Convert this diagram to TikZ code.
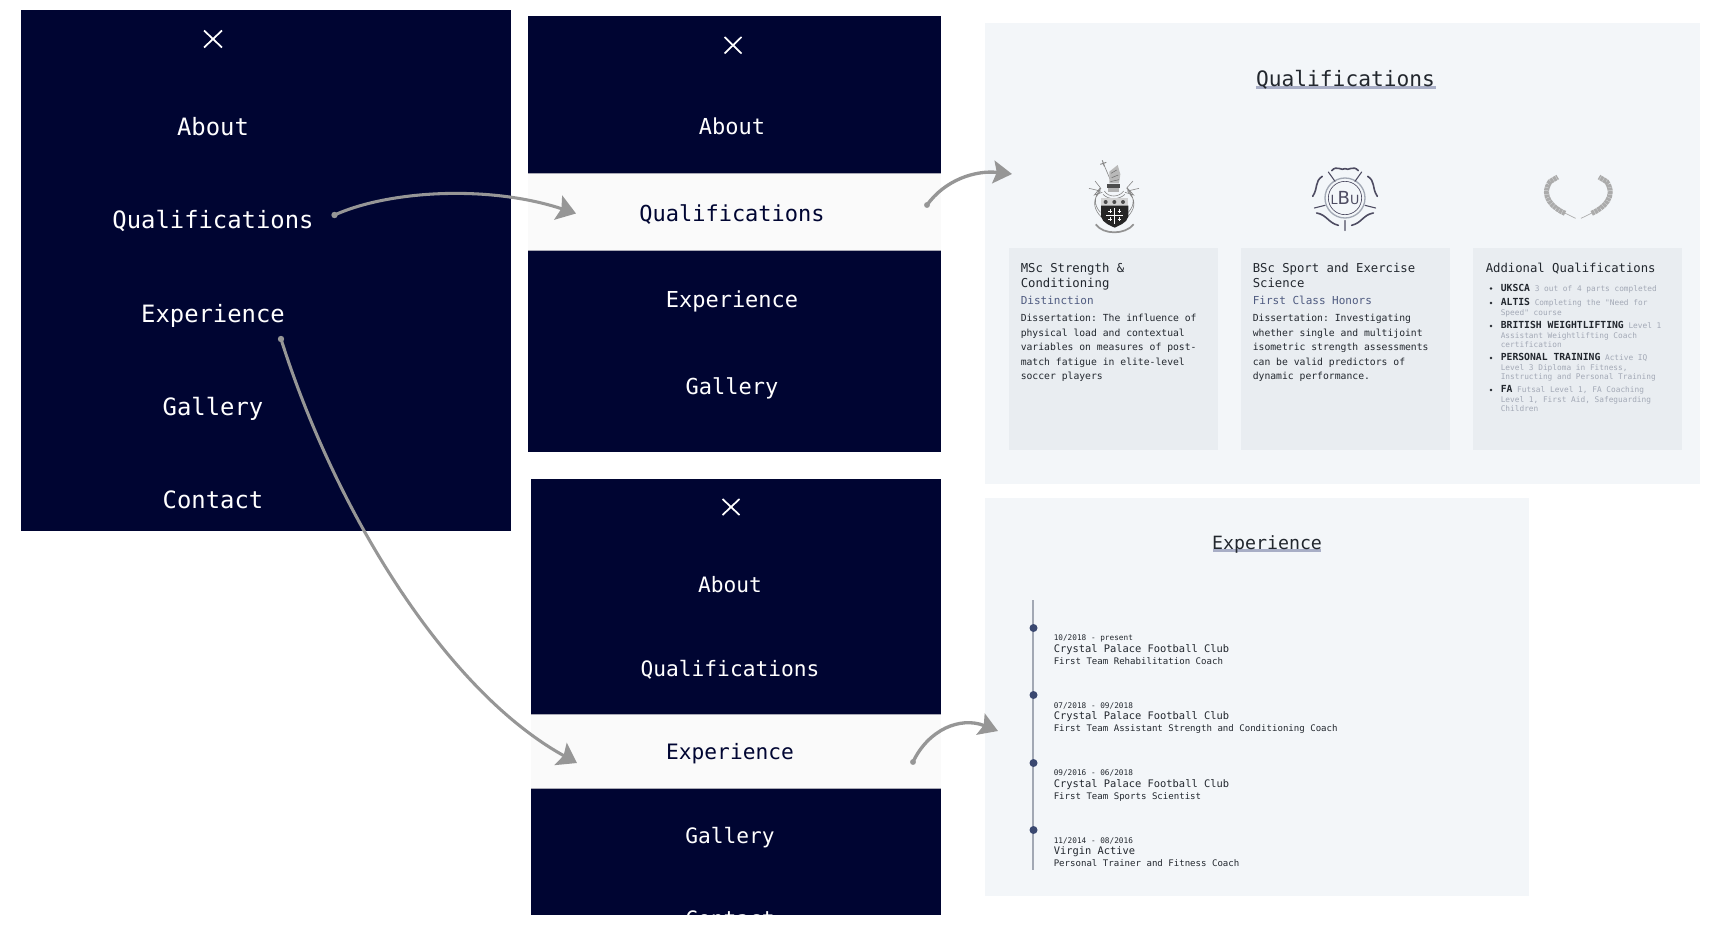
\documentclass[tikz,border=0pt]{standalone}
\usepackage{fontspec}
\setmainfont{DejaVu Sans}
\setmonofont{DejaVu Sans Mono}
\usetikzlibrary{arrows.meta}

\definecolor{navybg}{HTML}{000532}
\definecolor{bandbg}{HTML}{FAFAFA}
\definecolor{bandedge}{HTML}{A8A8B4}
\definecolor{panelbg}{HTML}{F3F6F9}
\definecolor{cardbg}{HTML}{E9EDF1}
\definecolor{inkdark}{HTML}{22272E}
\definecolor{inkblue}{HTML}{4F5B80}
\definecolor{inkgray}{HTML}{A3A9B6}
\definecolor{underbar}{HTML}{A8AEC6}
\definecolor{dotblue}{HTML}{3A4870}
\definecolor{lineblue}{HTML}{A2A8B4}
\definecolor{arrowgray}{HTML}{969696}
\definecolor{lbugray}{HTML}{4E4C62}
\definecolor{laurelgray}{HTML}{ABABAB}

\newcommand{\monosize}[1]{\fontsize{#1}{#1}\selectfont\ttfamily}
\newcommand{\qualbold}[1]{{\fontsize{7.3}{8}\selectfont\bfseries\color{inkdark}#1}}

\tikzset{
  menuleft/.style={text=white,font={\monosize{17.9}},inner sep=0pt,text height=13pt,text depth=0pt},
  menutop/.style={text=white,font={\monosize{16.5}},inner sep=0pt,text height=12pt,text depth=0pt},
  menubot/.style={text=white,font={\monosize{15.9}},inner sep=0pt,text height=11.6pt,text depth=0pt},
  closex/.style={white,line width=1.3pt},
  handarrow/.style={arrowgray,line width=2.3pt,line cap=round,-{Stealth[length=14pt,width=19pt,inset=2.5pt]}},
  handshort/.style={arrowgray,line width=2.5pt,line cap=round,-{Stealth[length=14pt,width=17pt,inset=2.5pt]}},
  handdot/.style={fill=arrowgray},
  cardhead/.style={anchor=west,text=inkdark,font={\monosize{9.2}},inner sep=0pt,text height=6.7pt,text depth=0pt},
  cardsub/.style={anchor=west,text=inkblue,font={\monosize{8.25}},inner sep=0pt,text height=6pt,text depth=0pt},
  cardbody/.style={anchor=west,text=inkdark,font={\monosize{7.3}},inner sep=0pt,text height=5.3pt,text depth=0pt},
  cardsmall/.style={anchor=west,text=inkgray,font={\monosize{5.85}},inner sep=0pt,text height=4pt,text depth=0pt},
  jobdate/.style={anchor=west,text=inkdark,font={\monosize{5.8}},inner sep=0pt,text height=4.2pt,text depth=0pt},
  jobclub/.style={anchor=west,text=inkdark,font={\monosize{7.8}},inner sep=0pt,text height=5.7pt,text depth=0pt},
  jobrole/.style={anchor=west,text=inkdark,font={\monosize{6.8}},inner sep=0pt,text height=5pt,text depth=0pt},
}

\begin{document}
\begin{tikzpicture}[x=0.75pt,y=-0.75pt]
\useasboundingbox (0,0) rectangle (1720,928);

%=== LEFT: full menu ===
\fill[navybg] (21,10) rectangle (511,531);
\draw[closex] (204,30.5) -- (222,47.5) (204,47.5) -- (222,30.5);
\foreach \lbl/\yy/\nm in {About/126.5/leftabout,Qualifications/220.3/leftqual,Experience/313.5/leftexp,Gallery/406.5/leftgal,Contact/499.5/leftcon}
  \node[menuleft] (\nm) at (213,\yy) {\lbl};

%=== MIDDLE TOP: menu with Qualifications picked ===
\fill[navybg] (528,15.5) rectangle (941,452);
\fill[bandbg] (528,173) rectangle (941,250.5);
\draw[bandedge,line width=0.4pt] (528,173) -- (941,173) (528,250.5) -- (941,250.5);
\draw[closex] (724.5,37) -- (741.5,53.5) (724.5,53.5) -- (741.5,37);
\foreach \lbl/\yy/\nm in {About/126.4/topabout,Experience/299.5/topexp,Gallery/386/topgal}
  \node[menutop] (\nm) at (732,\yy) {\lbl};
\node[menutop,text=navybg] (topqual) at (732,213) {Qualifications};

%=== MIDDLE BOTTOM: menu with Experience picked, cut off below ===
\fill[navybg] (531,478.6) rectangle (941,915);
\fill[bandbg] (531,714) rectangle (941,788.5);
\draw[bandedge,line width=0.5pt] (531,714) -- (941,714) (531,788.5) -- (941,788.5);
\draw[closex] (722.5,499) -- (739.5,515) (722.5,515) -- (739.5,499);
\foreach \lbl/\yy/\nm in {About/584.5/botabout,Qualifications/668.3/botqual,Gallery/835.5/botgal}
  \node[menubot] (\nm) at (730,\yy) {\lbl};
\node[menubot,text=navybg] (botexp) at (730,751.6) {Experience};
\begin{scope}
  \clip (531,478.6) rectangle (941,915);
  \node[menubot] (botcon) at (730,918.8) {Contact};
\end{scope}

%=== RIGHT TOP: Qualifications page ===
\fill[panelbg] (985,23) rectangle (1700,484);
\fill[underbar] (1256,85.5) rectangle (1435.5,89);
\node[font={\monosize{15.9}},text=inkdark,inner sep=0pt,text height=11.6pt,text depth=0pt] (qualtitle) at (1345.5,79) {Qualifications};

\fill[cardbg] (1009,248) rectangle (1218,450);
\fill[cardbg] (1241,248) rectangle (1450,450);
\fill[cardbg] (1473,248) rectangle (1682,450);

% Crest
\begin{scope}[shift={(1075,155)},x=0.25pt,y=-0.25pt]
  \draw[gray!90,line width=0.5pt] (85,25) -- (105,72);
  \draw[gray!95,line width=0.7pt] (76,28) -- (94,22) (82,16) -- (88,34);
  % beast on the helm
  \fill[gray!55] (103,50) -- (118,38) -- (128,30) -- (136,58) -- (132,85) -- (103,85) -- cycle;
  \draw[black!60,line width=0.35pt] (108,55) -- (125,45) (110,68) -- (130,60) (106,80) -- (132,74);
  \fill[black!70] (96,88) rectangle (136,98);
  \fill[gray!60] (100,98) rectangle (132,110);
  % mantling
  \draw[gray!95,line width=0.45pt]
    (60,78) -- (76,98) -- (58,120) -- (82,112) (42,100) -- (76,108) -- (62,128)
    (78,100) .. controls (56,125) and (56,150) .. (76,172) (68,118) .. controls (52,140) and (58,165) .. (78,185)
    (174,78) -- (156,98) -- (176,120) -- (150,112) (192,100) -- (158,108) -- (172,128)
    (155,100) .. controls (180,125) and (180,150) .. (160,172) (166,118) .. controls (184,140) and (178,165) .. (158,185)
    (88,108) .. controls (100,128) and (132,128) .. (146,108)
    (84,118) .. controls (100,135) and (132,135) .. (150,118);
  % shield
  \fill[gray!35] (78,130) rectangle (160,152);
  \foreach \xx in {92,118,144} \fill[black!70] (\xx,141) circle (6);
  \fill[black!85] (78,152) -- (160,152) -- (160,185) .. controls (155,205) and (130,212) .. (119,218)
    .. controls (108,212) and (83,205) .. (78,185) -- cycle;
  \draw[white,line width=0.7pt] (119,160) -- (119,206) (94,180) -- (144,180);
  \draw[white,line width=0.45pt] (100,168) -- (110,168) (128,168) -- (138,168) (100,193) -- (110,193) (128,193) -- (138,193)
    (105,162) -- (105,174) (133,162) -- (133,174) (105,187) -- (105,199) (133,187) -- (133,199);
  % motto ribbon
  \draw[gray!85,line width=1.3pt] (62,208) .. controls (85,240) and (150,240) .. (176,208);
\end{scope}

% LBU rose
\begin{scope}[shift={(1345,198)},x=0.25pt,y=-0.25pt]
  \draw[lineblue,line width=1pt] (0,0) circle (60);
  \draw[lbugray,line width=0.5pt] (0,0) circle (50);
  \node[text=lbugray,inner sep=0pt] (lbumark) at (0,1)
    {\fontsize{9.5}{10}\selectfont L\fontsize{13.5}{14}\selectfont B\fontsize{9.5}{10}\selectfont U};
  \draw[lbugray,line width=1.2pt,line cap=round]
    (-40,-82) .. controls (-25,-100) and (-10,-80) .. (0,-88) .. controls (10,-80) and (25,-100) .. (40,-82)
    (-68,-65) .. controls (-92,-50) and (-80,-30) .. (-97,-5)
    (68,-65) .. controls (92,-50) and (80,-30) .. (97,-5)
    (-85,45) .. controls (-55,50) and (-50,75) .. (-20,82)
    (85,45) .. controls (55,50) and (50,75) .. (20,82);
  \draw[lbugray,line width=0.8pt,line cap=round]
    (-50,-78) -- (-30,-50) (50,-78) -- (30,-50) (-92,30) -- (-60,22) (92,30) -- (60,22) (0,67) -- (0,98);
\end{scope}

% Laurel wreath
\begin{scope}[shift={(1535,165)},x=0.25pt,y=-0.25pt]
  \draw[laurelgray,line width=0.5pt] (122,160) -- (85,142);
  \draw[laurelgray,line width=0.5pt] (138,160) -- (175,142);
  \draw[laurelgray,line width=3.8pt,dash pattern=on 2.2pt off 0.4pt]
    (90,145) .. controls (55,130) and (15,95) .. (45,50) -- (68,36);
  \draw[laurelgray,line width=3.8pt,dash pattern=on 2.2pt off 0.4pt]
    (170,145) .. controls (205,130) and (245,95) .. (215,50) -- (192,36);
\end{scope}

% MSc card
\node[cardhead] (mschead) at (1020.5,268) {MSc Strength \&};
\node[cardhead] (mschead2) at (1020.5,283) {Conditioning};
\node[cardsub] (mscsub) at (1020.5,300.5) {Distinction};
\foreach \txt/\yy/\nm in {{Dissertation: The influence of}/318/mscone,{physical load and contextual}/332.5/msctwo,{variables on measures of post-}/347/mscthree,{match fatigue in elite-level}/361.5/mscfour,{soccer players}/376/mscfive}
  \node[cardbody] (\nm) at (1020.5,\yy) {\txt};

% BSc card
\node[cardhead] (bschead) at (1252.5,268) {BSc Sport and Exercise};
\node[cardhead] (bschead2) at (1252.5,283) {Science};
\node[cardsub] (bscsub) at (1252.5,300.5) {First Class Honors};
\foreach \txt/\yy/\nm in {{Dissertation: Investigating}/318/bscone,{whether single and multijoint}/332.5/bsctwo,{isometric strength assessments}/347/bscthree,{can be valid predictors of}/361.5/bscfour,{dynamic performance.}/376/bscfive}
  \node[cardbody] (\nm) at (1252.5,\yy) {\txt};

% Additional card
\node[cardhead] (addhead) at (1485.5,268) {Addional Qualifications};
\foreach \yy in {288.5,303,326,358,390}
  \fill[inkdark] (1491,\yy) circle (1.1pt);
\node[cardsmall] (addone) at (1500.5,289) {\qualbold{UKSCA} 3 out of 4 parts completed};
\node[cardsmall] (addtwo) at (1500.5,303) {\qualbold{ALTIS} Completing the "Need for};
\node[cardsmall] (addtwob) at (1500.5,313) {Speed" course};
\node[cardsmall] (addthree) at (1500.5,326) {\qualbold{BRITISH WEIGHTLIFTING} Level 1};
\node[cardsmall] (addthreeb) at (1500.5,336) {Assistant Weightlifting Coach};
\node[cardsmall] (addthreec) at (1500.5,345) {certification};
\node[cardsmall] (addfour) at (1500.5,358) {\qualbold{PERSONAL TRAINING} Active IQ};
\node[cardsmall] (addfourb) at (1500.5,368) {Level 3 Diploma in Fitness,};
\node[cardsmall] (addfourc) at (1500.5,377) {Instructing and Personal Training};
\node[cardsmall] (addfive) at (1500.5,390) {\qualbold{FA} Futsal Level 1, FA Coaching};
\node[cardsmall] (addfiveb) at (1500.5,400) {Level 1, First Aid, Safeguarding};
\node[cardsmall] (addfivec) at (1500.5,409) {Children};

%=== RIGHT BOTTOM: Experience page ===
\fill[panelbg] (985,498) rectangle (1529,896);
\fill[underbar] (1212.5,548.5) rectangle (1321,552);
\node[font={\monosize{13.7}},text=inkdark,inner sep=0pt,text height=10pt,text depth=0pt] (exptitle) at (1267,542.5) {Experience};

\coordinate (timetop) at (1033,600);
\coordinate (timeend) at (1033,870);
\draw[lineblue,line width=1pt] (timetop) -- (timeend);
\foreach \yy in {628,695,763,830}
  \fill[dotblue] (1033.5,\yy) circle (3pt);

\foreach \dd/\cc/\rr/\yy in {{10/2018 - present}/{Crystal Palace Football Club}/{First Team Rehabilitation Coach}/0,
    {07/2018 - 09/2018}/{Crystal Palace Football Club}/{First Team Assistant Strength and Conditioning Coach}/67.5,
    {09/2016 - 06/2018}/{Crystal Palace Football Club}/{First Team Sports Scientist}/135,
    {11/2014 - 08/2016}/{Virgin Active}/{Personal Trainer and Fitness Coach}/202.5} {
  \node[jobdate] (date\yy) at (1053.5,638+\yy) {\dd};
  \node[jobclub] (club\yy) at (1053.5,648.5+\yy) {\cc};
  \node[jobrole] (role\yy) at (1053.5,661+\yy) {\rr};
}

%=== Arrows ===
\coordinate (qualfrom) at (334.5,215);
\coordinate (qualto) at (576,213.5);
\fill[handdot] (qualfrom) circle (2.4pt);
\draw[handarrow] (qualfrom) .. controls (390,190) and (490,185) .. (qualto);

\coordinate (expfrom) at (281,339);
\coordinate (expto) at (577,763);
\fill[handdot] (expfrom) circle (2.4pt);
\draw[handarrow] (expfrom) .. controls (335,510) and (445,690) .. (expto);

\coordinate (pagefrom) at (927,205);
\coordinate (pageto) at (1012,174);
\fill[handdot] (pagefrom) circle (2.2pt);
\draw[handshort] (pagefrom) .. controls (945,180) and (975,170) .. (pageto);

\coordinate (jobsfrom) at (913,762);
\coordinate (jobsto) at (998,731);
\fill[handdot] (jobsfrom) circle (2.2pt);
\draw[handshort] (jobsfrom) .. controls (928,730) and (960,716) .. (jobsto);

\end{tikzpicture}
\end{document}
